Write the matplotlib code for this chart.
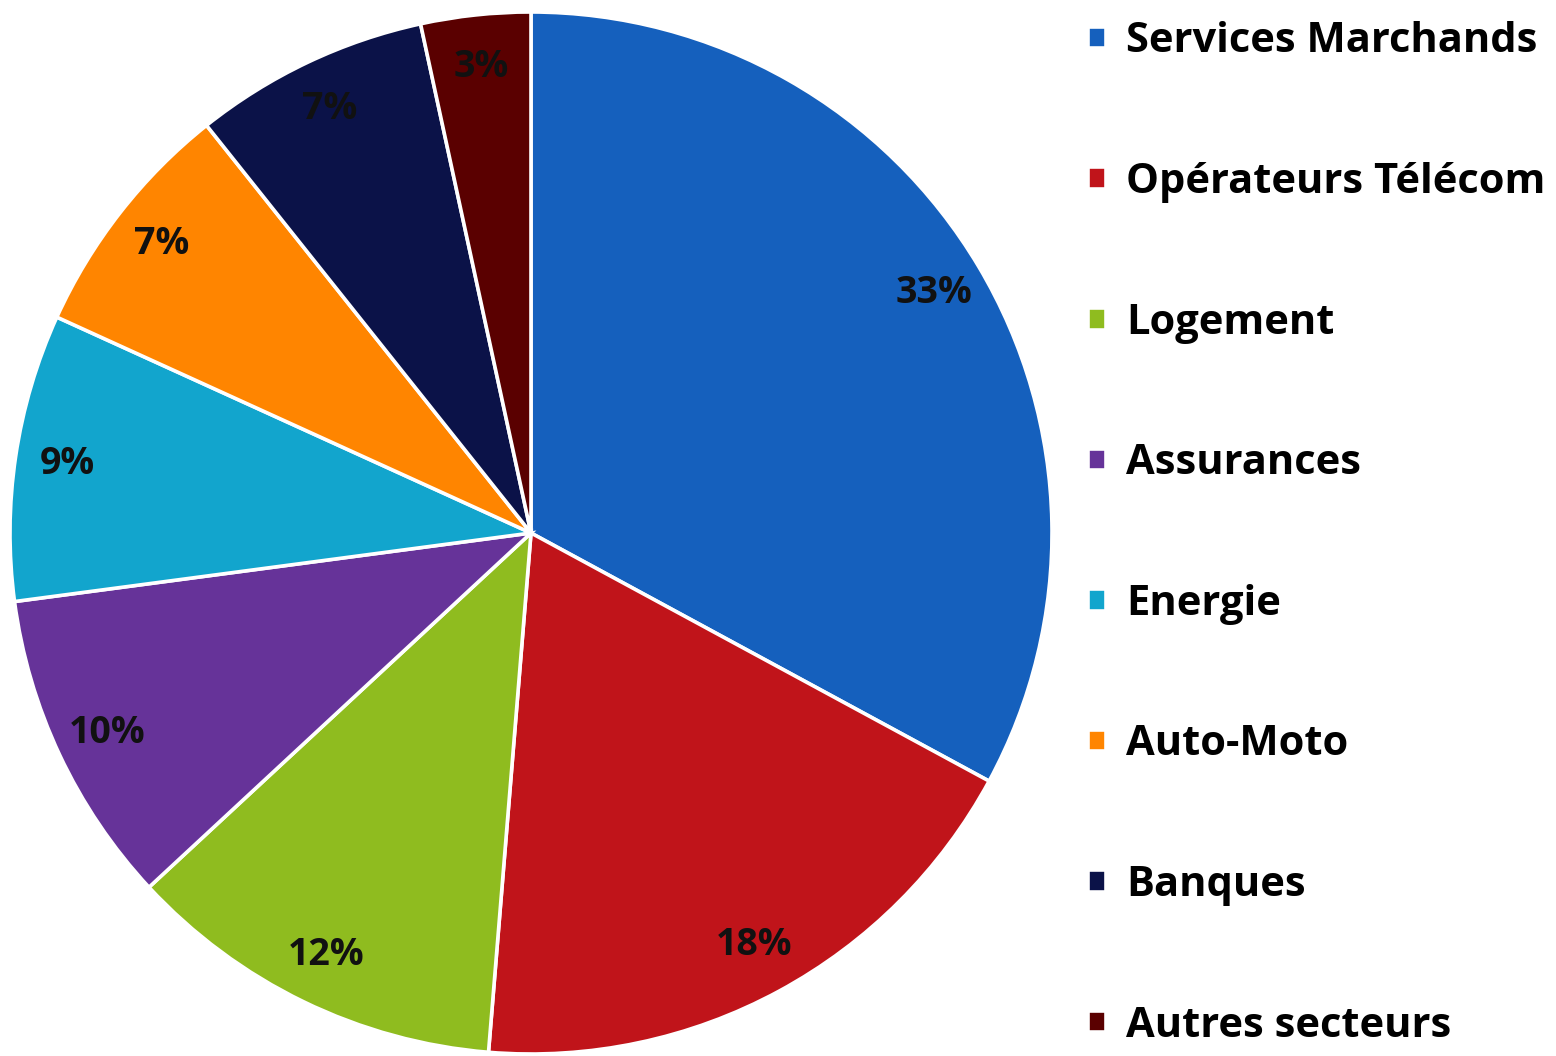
import matplotlib
matplotlib.use("Agg")
import matplotlib.pyplot as plt

categories = ["Services Marchands", "Opérateurs Télécom", "Logement", "Assurances",
              "Energie", "Auto-Moto", "Banques", "Autres secteurs"]
values = [32.9, 18.4, 11.8, 9.8, 8.9, 7.5, 7.3, 3.4]
pct_labels = ["33%", "18%", "12%", "10%", "9%", "7%", "7%", "3%"]
colors = ["#1560BD", "#C0141A", "#8FBC1F", "#663399", "#12A5CD", "#FF8500", "#0B1248", "#5A0000"]

plt.rcParams['font.family'] = ['Open Sans', 'DejaVu Sans']

fig = plt.figure(figsize=(15.56, 10.56), dpi=100)
ax = fig.add_axes([10/1556, 2/1056, 1042/1556, 1042/1056])

lab_iter = iter(pct_labels)
wedges, texts, autotexts = ax.pie(values, colors=colors, startangle=90, counterclock=False,
                                  radius=1.0, pctdistance=0.9,
                                  autopct=lambda p: next(lab_iter),
                                  wedgeprops=dict(edgecolor="white", linewidth=2.6),
                                  textprops=dict(fontsize=27, fontweight="bold", color="#111111"))
ax.set_xlim(-1.0, 1.0)
ax.set_ylim(-1.0, 1.0)
ax.set_aspect("equal")
ax.axis("off")

fig.legend(wedges, categories, loc="center left", bbox_to_anchor=(1088/1556, 1 - 534/1056),
           frameon=False, prop=dict(weight="bold", size=30),
           handlelength=0.42, handleheight=0.42, handletextpad=0.5,
           labelspacing=2.39, borderpad=0, borderaxespad=0)

fig.savefig("out.png", dpi=100, facecolor="white")
